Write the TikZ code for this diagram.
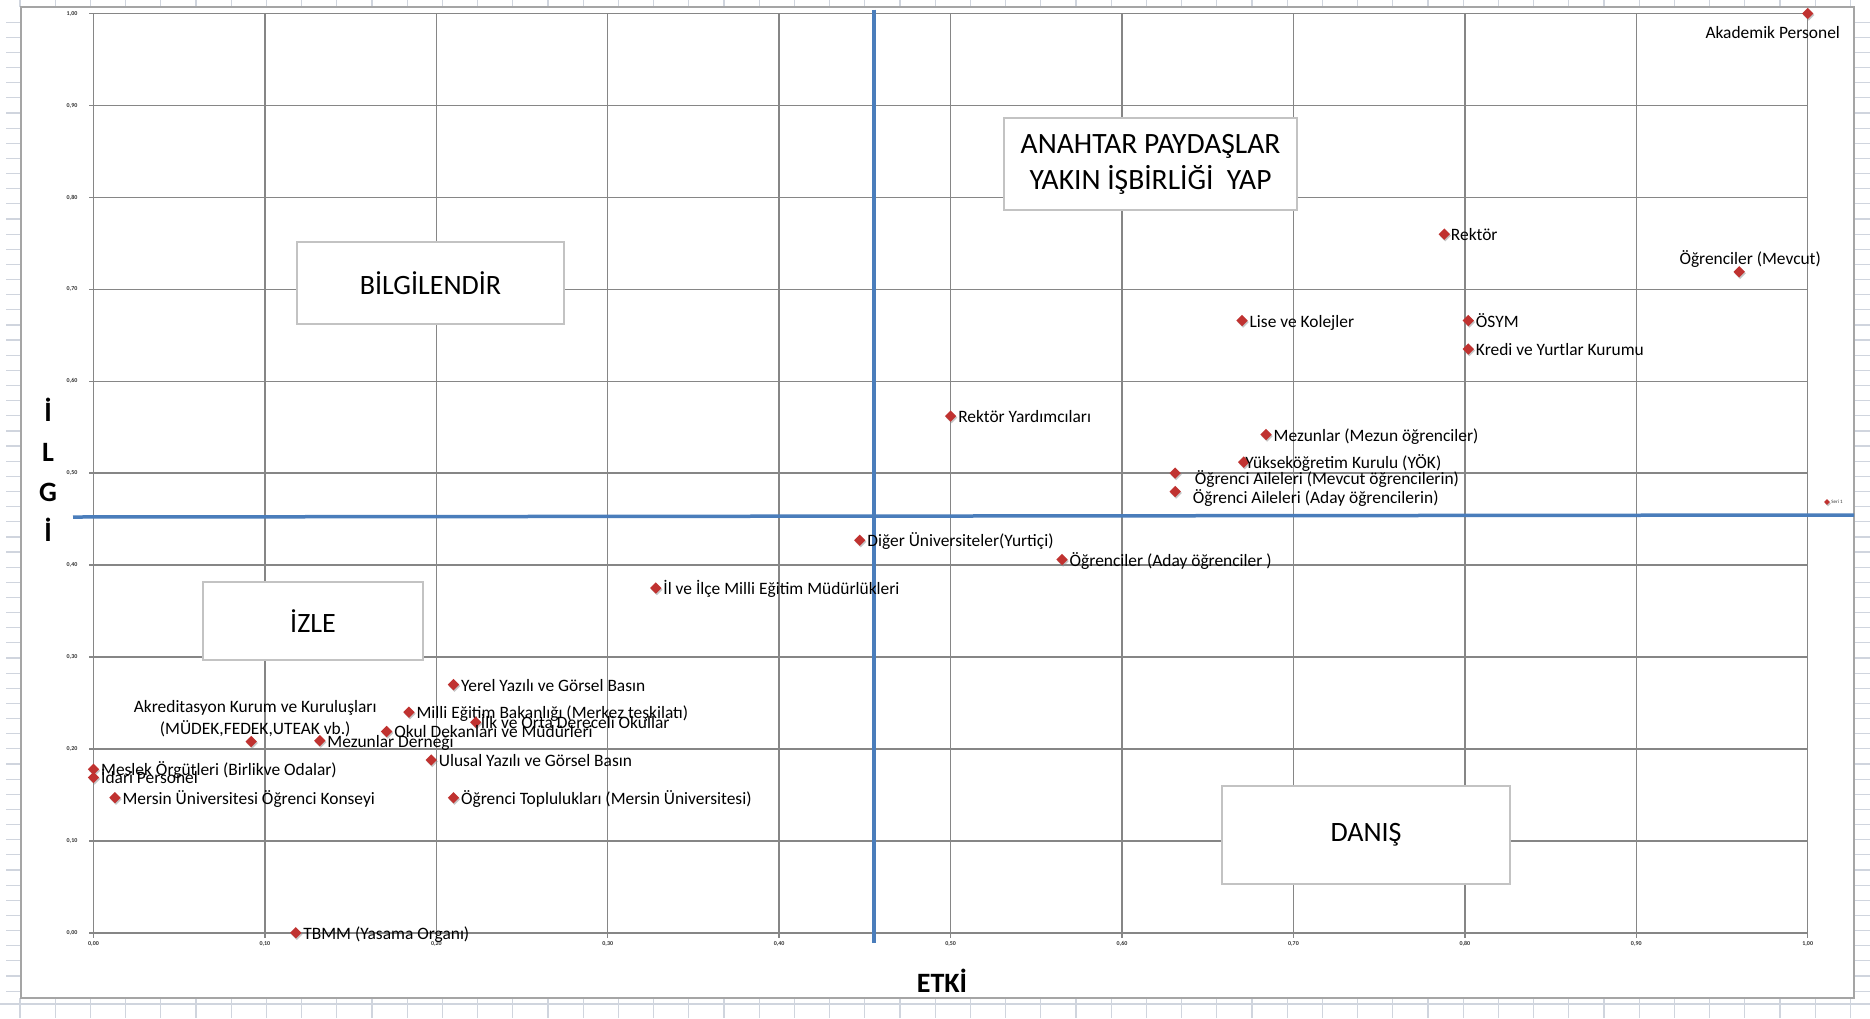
\documentclass[tikz,border=0pt]{standalone}
\usepackage{fontspec}
\setmainfont{Carlito}
\usetikzlibrary{positioning,shapes.geometric,shadows}
\definecolor{gridgray}{RGB}{134,134,134}
\definecolor{sheetline}{RGB}{208,213,222}
\definecolor{framegray}{RGB}{165,165,165}
\definecolor{boxgray}{RGB}{195,195,195}
\definecolor{splitblue}{RGB}{74,125,187}
\definecolor{markred}{RGB}{192,50,48}
\tikzset{
  sheet/.style={sheetline, line width=1.2pt},
  gridline/.style={gridgray, line width=1.4pt},
  split/.style={splitblue, line width=3.5pt},
  stake/.style={diamond, fill=markred, inner sep=0pt, minimum size=11.5pt,
    drop shadow={shadow xshift=1pt, shadow yshift=-1.5pt, fill=black!45, opacity=0.5}},
  stakefont/.style={inner sep=0pt, font=\fontsize{17.4}{21.6}\selectfont},
  stakelbl/.style={stakefont, text height=13pt, text depth=0pt},
  zone/.style={draw=boxgray, line width=1.5pt, fill=white, align=center,
    font=\fontsize{28}{36}\selectfont},
  axtitle/.style={inner sep=0pt, font=\bfseries\fontsize{28}{40}\selectfont},
  ticklbl/.style={inner sep=0pt, text=black!80, font=\bfseries\fontsize{6}{6}\selectfont}
}

\begin{document}
\begin{tikzpicture}[x=1pt, y=-1pt, node distance=1.5pt]
	\useasboundingbox (0,0) rectangle (1870,1018);
	\fill[white] (0,0) rectangle (1870,1018);
	\foreach \c in {0,...,52}{
		\draw[sheet] ({20+35.2*\c},0) -- ({20+35.2*\c},7);
		\draw[sheet] ({20+35.2*\c},998) -- ({20+35.2*\c},1018);
	}
	\foreach \r in {1,...,65}{
		\draw[sheet] (6,{7+15.14*\r}) -- (21,{7+15.14*\r});
		\draw[sheet] (1854,{7+15.14*\r}) -- (1870,{7+15.14*\r});
	}
	\draw[sheet] (0,1004) -- (1870,1004);
	\draw[framegray, line width=2pt, fill=white] (21,7) rectangle (1854,998);

	\begin{scope}[shift={(93.5,932.8)}, x=1714.2pt, y=919.3pt]
		\foreach \i in {0,...,10}{
			\draw[gridline] (\i/10,0) -- (\i/10,1);
			\draw[gridline] (0,\i/10) -- (1,\i/10);
			\draw[gridline] (\i/10,0) -- ++(0pt,-5pt);
			\draw[gridline] (0,\i/10) -- ++(-5pt,0pt);
		}
		\foreach \i in {0,...,9}{
			\node[ticklbl, xshift=-21.5pt] (yt\i) at (0,\i/10) {0,\i0};
			\node[ticklbl, yshift=-11pt] (xt\i) at (\i/10,0) {0,\i0};
		}
		\node[ticklbl, xshift=-21.5pt] (yt10) at (0,1) {1,00};
		\node[ticklbl, yshift=-11pt] (xt10) at (1,0) {1,00};
	\end{scope}

	\node[zone, minimum width=267pt, minimum height=82pt] (inform) at (430.5,283) {BİLGİLENDİR};
	\node[zone, minimum width=220pt, minimum height=78pt] (monitor) at (313,621) {İZLE};
	\node[zone, minimum width=293pt, minimum height=92pt, font=\fontsize{29.5}{36}\selectfont] (keyparty) at (1150.5,164)
		{ANAHTAR PAYDAŞLAR\\YAKIN İŞBİRLİĞİ\ \ YAP};
	\node[zone, minimum width=288pt, minimum height=98pt] (consult) at (1366,835) {DANIŞ};

	\draw[split] (874,9.5) -- (874,943);
	\draw[split] (73,517) -- (1854,515);

	\node[axtitle] (etki) at (942,981) {ETKİ};
	\node[axtitle, align=center] (ilgi) at (48,470) {İ\\L\\G\\İ};

	\node[stake, minimum size=6pt] (legmark) at (1827,502) {};
	\node[ticklbl, right=1pt of legmark, font=\fontsize{5}{5}\selectfont] (legtext) {Seri 1};

	\begin{scope}[shift={(93.5,932.8)}, x=1714.2pt, y=919.3pt]
		\node[stake] (akad) at (1.000,1.000) {};
		\node[stakelbl, below=6pt of akad, xshift=-35pt] (akadL) {Akademik Personel};
		\node[stake] (rektor) at (0.788,0.760) {};
		\node[stakelbl, right=0.5pt of rektor] (rektorL) {Rektör};
		\node[stake] (ogrmevcut) at (0.960,0.719) {};
		\node[stakelbl, above=1.5pt of ogrmevcut, xshift=11pt] (ogrmevcutL) {Öğrenciler (Mevcut)};
		\node[stake] (lise) at (0.670,0.666) {};
		\node[stakelbl, right=of lise] (liseL) {Lise ve Kolejler};
		\node[stake] (osym) at (0.802,0.666) {};
		\node[stakelbl, right=of osym] (osymL) {ÖSYM};
		\node[stake] (kredi) at (0.802,0.635) {};
		\node[stakelbl, right=of kredi] (krediL) {Kredi ve Yurtlar Kurumu};
		\node[stake] (rekyard) at (0.500,0.562) {};
		\node[stakelbl, right=of rekyard] (rekyardL) {Rektör Yardımcıları};
		\node[stake] (mezun) at (0.684,0.542) {};
		\node[stakelbl, right=of mezun] (mezunL) {Mezunlar (Mezun öğrenciler)};
		\node[stake] (yok) at (0.671,0.512) {};
		\node[stakelbl, right=-4.5pt of yok] (yokL) {Yükseköğretim Kurulu (YÖK)};
		\node[stake] (ailemevcut) at (0.631,0.500) {};
		\node[stakelbl, right=13.5pt of ailemevcut, yshift=-5pt] (ailemevcutL) {Öğrenci Aileleri (Mevcut öğrencilerin)};
		\node[stake] (aileaday) at (0.631,0.480) {};
		\node[stakelbl, right=11.5pt of aileaday, yshift=-5pt] (aileadayL) {Öğrenci Aileleri (Aday öğrencilerin)};
		\node[stake] (diger) at (0.447,0.427) {};
		\node[stakelbl, right=of diger] (digerL) {Diğer Üniversiteler(Yurtiçi)};
		\node[stake] (ograday) at (0.565,0.406) {};
		\node[stakelbl, right=of ograday] (ogradayL) {Öğrenciler (Aday öğrenciler )};
		\node[stake] (ilmeb) at (0.328,0.375) {};
		\node[stakelbl, right=of ilmeb] (ilmebL) {İl ve İlçe Milli Eğitim Müdürlükleri};
		\node[stake] (yerel) at (0.210,0.270) {};
		\node[stakelbl, right=of yerel] (yerelL) {Yerel Yazılı ve Görsel Basın};
		\node[stake] (akred) at (0.092,0.208) {};
		\node[stakefont, align=center, above=-1pt of akred, xshift=4pt] (akredL)
			{Akreditasyon Kurum ve Kuruluşları\\(MÜDEK,FEDEK,UTEAK vb.)};
		\node[stake] (meb) at (0.184,0.240) {};
		\node[stakelbl, right=of meb] (mebL) {Milli Eğitim Bakanlığı (Merkez teşkilatı)};
		\node[stake] (okullar) at (0.223,0.229) {};
		\node[stakelbl, right=-1pt of okullar] (okullarL) {İlk ve Orta Dereceli Okullar};
		\node[stake] (dekan) at (0.171,0.219) {};
		\node[stakelbl, right=of dekan] (dekanL) {Okul Dekanları ve Müdürleri};
		\node[stake] (mezder) at (0.132,0.209) {};
		\node[stakelbl, right=of mezder] (mezderL) {Mezunlar Derneği};
		\node[stake] (ulusal) at (0.197,0.188) {};
		\node[stakelbl, right=of ulusal] (ulusalL) {Ulusal Yazılı ve Görsel Basın};
		\node[stake] (meslek) at (0.000,0.178) {};
		\node[stakelbl, right=of meslek] (meslekL) {Meslek Örgütleri (Birlikve Odalar)};
		\node[stake] (idari) at (0.000,0.169) {};
		\node[stakelbl, right=of idari] (idariL) {İdari Personel};
		\node[stake] (konsey) at (0.0125,0.147) {};
		\node[stakelbl, right=of konsey] (konseyL) {Mersin Üniversitesi Öğrenci Konseyi};
		\node[stake] (topluluk) at (0.210,0.147) {};
		\node[stakelbl, right=of topluluk] (toplulukL) {Öğrenci Toplulukları (Mersin Üniversitesi)};
		\node[stake] (tbmm) at (0.118,0.000) {};
		\node[stakelbl, right=of tbmm] (tbmmL) {TBMM (Yasama Organı)};
	\end{scope}
\end{tikzpicture}
\end{document}
